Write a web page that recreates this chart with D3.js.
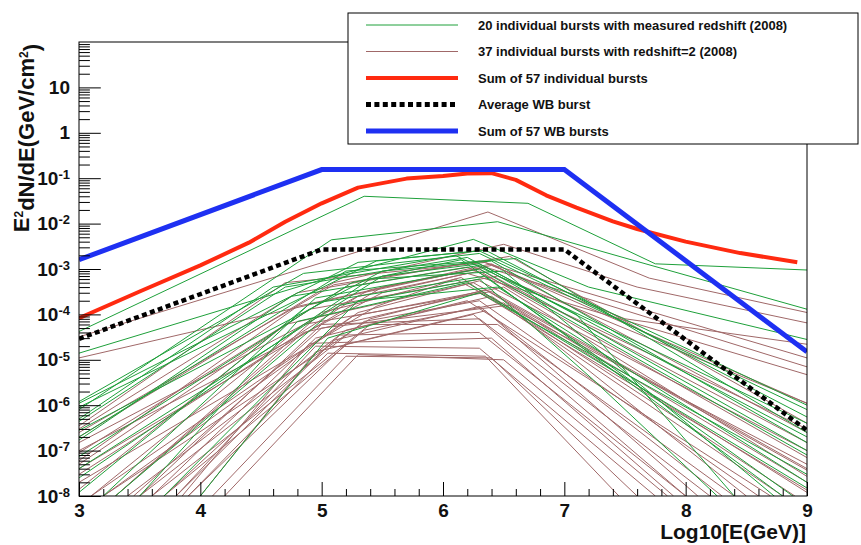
<!DOCTYPE html>
<html>
<head>
<meta charset="utf-8">
<script src="https://cdn.jsdelivr.net/npm/d3@7"></script>
<style>
  body { margin: 0; background: #fff; }
  text { font-family: "Liberation Sans", Arial, Helvetica, sans-serif; font-weight: bold; fill: #111; }
</style>
</head>
<body>
<div id="chart"></div>
<script>
// chart values

var energyTicks = [3, 4, 5, 6, 7, 8, 9];
var decadeTicks = [1e1, 1, 1e-1, 1e-2, 1e-3, 1e-4, 1e-5, 1e-6, 1e-7, 1e-8];

// sum of 57 WB bursts (blue)
var wbSumE = [3, 5, 7, 9];
var wbSumFlux = [1.6e-3, 0.155, 0.155, 1.5e-5];

// average WB burst (black dotted)
var wbAvgE = [3, 5, 7, 9];
var wbAvgFlux = [2.9e-5, 2.7e-3, 2.7e-3, 2.8e-7];

// sum of 57 individual bursts (red)
var indivSumE = [3, 3.5, 4, 4.4, 4.7, 5.0, 5.3, 5.7, 6.0, 6.2, 6.4, 6.6, 6.85, 7.1, 7.4, 7.6, 8.0, 8.45, 8.92];
var indivSumFlux = [8.3e-5, 3.2e-4, 1.2e-3, 3.8e-3, 1.1e-2, 2.8e-2, 6.2e-2, 0.098, 0.112, 0.127, 0.129, 0.092, 0.042, 0.0224, 0.0112, 7.6e-3, 4.0e-3, 2.24e-3, 1.41e-3];

// 20 bursts with measured redshift (green), [log10 E, flux] per break
var greenBursts = [
  [[3, 4.2e-5], [5.35, 4e-2], [6.7, 2.8e-2], [7.75, 1.3e-3], [9, 9.5e-4]],
  [[3, 8e-7], [5.08, 4.4e-3], [6.45, 1.1e-2], [7.55, 1.6e-3], [9, 1.3e-4]],
  [[3, 1.4e-5], [5.1, 7e-4], [6.25, 4.5e-3], [7.2, 4e-4], [9, 2.8e-5]],
  [[3, 1.2e-6], [4.85, 8e-4], [6.3, 2.2e-3], [9, 8e-7]],
  [[3, 9e-7], [5.45, 1.5e-3], [6.35, 2.6e-3], [9, 5.5e-7]],
  [[3, 4.4e-7], [4.7, 4e-4], [6.2, 1.8e-3], [9, 2e-7]],
  [[3, 2.8e-7], [5.5, 9e-4], [6.4, 1.5e-3], [9, 1.5e-7]],
  [[3, 1.7e-7], [4.75, 2.5e-4], [6.3, 1.2e-3], [9, 1e-7]],
  [[3, 7.4e-8], [5.25, 5e-4], [6.15, 1.6e-3], [9, 6e-9]],
  [[3, 2.5e-8], [5.4, 6e-4], [6.5, 9e-4], [9, 2.5e-9]],
  [[3, 1.2e-8], [4.9, 1.7e-4], [6.35, 7e-4], [9, 4e-9]],
  [[3.3, 1e-8], [5.15, 1.6e-4], [6.3, 6e-4], [7.24, 3.6e-6], [8.26, 1e-8]],
  [[3.5, 1e-8], [4.8, 7e-5], [6.2, 5e-4], [9, 1.5e-8]],
  [[4.0, 1e-8], [5.05, 3e-5], [6.3, 3e-4], [9, 3e-8]],
  [[3, 1.1e-6], [5.3, 1.4e-3], [6.3, 2.5e-3], [9, 1e-6]],
  [[3, 5e-7], [4.6, 4e-4], [6.1, 2e-3], [9, 4e-7]],
  [[3, 2e-7], [5.2, 9e-4], [6.6, 1.7e-3], [9, 2.5e-7]],
  [[3.2, 1e-8], [4.95, 2.3e-4], [6.3, 1e-3], [9, 8e-8]],
  [[3, 4e-8], [5.5, 7e-4], [6.3, 1.3e-3], [7.1, 1e-4], [8.4, 1e-8]],
  [[3.7, 1e-8], [5.3, 2e-4], [6.45, 4e-4], [9, 2e-8]]
];

// 37 bursts with redshift = 2 (brown)
var brownBursts = [
  [[3, 3.2e-5], [6.37, 1.8e-2], [7.7, 6.3e-4], [9, 1.1e-4]],
  [[3, 1.1e-5], [5.2, 2.5e-4], [6.4, 1.2e-3], [7.5, 8e-5], [9, 2.2e-5]],
  [[3, 2e-7], [5.1, 5e-4], [6.5, 3.5e-3], [7.6, 4e-4], [9, 6.5e-5]],
  [[3, 3e-7], [4.8, 3e-4], [6.3, 1.5e-3], [9, 1.1e-5]],
  [[3, 1.5e-7], [5.4, 3.5e-4], [6.35, 1.1e-3], [9, 7e-6]],
  [[3, 1e-7], [5.5, 3e-4], [6.2, 8e-4], [9, 4.7e-6]],
  [[3, 5e-8], [4.9, 1.3e-4], [6.45, 7e-4], [9, 1.1e-6]],
  [[3, 3e-8], [5.3, 2.5e-4], [6.3, 9e-4], [9, 7e-8]],
  [[3, 2e-8], [5.45, 1.5e-4], [6.1, 6e-4], [9, 5e-8]],
  [[3, 1.4e-8], [4.7, 6e-5], [6.25, 5e-4], [9, 3.7e-8]],
  [[3.1, 1e-8], [5.25, 9e-5], [6.5, 4e-4], [9, 2.7e-8]],
  [[3.2, 1e-8], [5.4, 8e-5], [6.35, 3.5e-4], [9, 2e-8]],
  [[3.3, 1e-8], [4.85, 4e-5], [6.3, 3e-4], [9, 1.35e-8]],
  [[3.4, 1e-8], [5.2, 4.5e-5], [6.4, 2.5e-4], [8.9, 1e-8]],
  [[3.6, 1e-8], [4.95, 3e-5], [6.2, 2e-4], [8.7, 1e-8]],
  [[3.7, 1e-8], [5.35, 4.5e-5], [6.5, 1.8e-4], [8.5, 1e-8]],
  [[3.8, 1e-8], [5.1, 2.7e-5], [6.3, 1.5e-4], [8.3, 1e-8]],
  [[3.9, 1e-8], [5.2, 2.2e-5], [6.35, 1.2e-4], [8.1, 1e-8]],
  [[4.0, 1e-8], [4.95, 1.5e-5], [6.25, 1e-4], [8.0, 1e-8]],
  [[3.9, 1e-8], [5.05, 1.4e-5], [6.35, 1.2e-5], [7.45, 1e-8]],
  [[4.1, 1e-8], [5.2, 1.2e-5], [6.4, 1.1e-5], [7.6, 1e-8]],
  [[3.8, 1e-8], [4.95, 2e-5], [6.3, 1.8e-5], [7.75, 1e-8]],
  [[4.2, 1e-8], [5.3, 1.3e-5], [6.5, 1e-5], [7.85, 1e-8]],
  [[3.5, 1e-8], [5.0, 6e-5], [6.3, 8e-5], [8.2, 1e-8]],
  [[3.6, 1e-8], [5.4, 6e-5], [6.45, 6e-5], [8.4, 1e-8]],
  [[3.7, 1e-8], [5.15, 3.5e-5], [6.3, 4e-5], [8.0, 1e-8]],
  [[3.85, 1e-8], [4.9, 2.3e-5], [6.4, 3e-5], [7.9, 1e-8]],
  [[3, 4e-8], [5.5, 4e-4], [6.3, 1e-3], [9, 1.5e-7]],
  [[3, 6e-8], [4.8, 1.5e-4], [6.4, 1.3e-3], [9, 2.5e-7]],
  [[3, 9e-8], [5.2, 4e-4], [6.2, 1.1e-3], [9, 3e-7]],
  [[3, 2.5e-7], [5.1, 4.5e-4], [6.55, 1.9e-3], [9, 4e-7]],
  [[3, 3.5e-7], [4.7, 5e-4], [6.35, 1.4e-3], [9, 1.1e-6]],
  [[3.2, 1e-8], [5.3, 1.1e-4], [6.3, 5.5e-4], [9, 1e-7]],
  [[3.3, 1e-8], [5.0, 1.1e-4], [6.15, 6.5e-4], [8.8, 1e-8]],
  [[3.1, 1e-8], [4.85, 6e-5], [6.4, 3.2e-4], [9, 4e-8]],
  [[3.5, 1e-8], [5.35, 7e-5], [6.3, 2e-4], [8.6, 1e-8]],
  [[3.45, 1e-8], [5.0, 5e-5], [6.55, 1.6e-4], [9, 1.2e-8]]
];

var legendLabels = [
  "20 individual bursts with measured redshift (2008)",
  "37 individual bursts with redshift=2 (2008)",
  "Sum of 57 individual bursts",
  "Average WB burst",
  "Sum of 57 WB bursts"
];

var greenColor = "#1ea03a";
var brownColor = "#a06868";
var redColor = "#ff2a10";
var blueColor = "#1e30f2";

var width = 861, height = 545;
var plotLeft = 79, plotRight = 807, plotTop = 42, plotBottom = 496;

var svg = d3.select("#chart").append("svg")
  .attr("width", width)
  .attr("height", height);

svg.append("rect").attr("width", width).attr("height", height).attr("fill", "#fff");

var x = d3.scaleLinear().domain([3, 9]).range([plotLeft, plotRight]);
var y = d3.scaleLog().domain([1e-8, 1e2]).range([plotBottom, plotTop]);

svg.append("clipPath").attr("id", "plotclip")
  .append("rect")
  .attr("x", plotLeft).attr("y", plotTop)
  .attr("width", plotRight - plotLeft).attr("height", plotBottom - plotTop);

var plot = svg.append("g").attr("clip-path", "url(#plotclip)");

var line = d3.line()
  .x(function(d) { return x(d[0]); })
  .y(function(d) { return y(d[1]); });

function zip(es, fs) {
  return es.map(function(e, i) { return [e, fs[i]]; });
}

// individual bursts
plot.selectAll("path.brown")
  .data(brownBursts)
  .enter().append("path")
    .attr("class", "brown")
    .attr("d", line)
    .attr("fill", "none")
    .attr("stroke", brownColor)
    .attr("stroke-width", 1);

plot.selectAll("path.green")
  .data(greenBursts)
  .enter().append("path")
    .attr("class", "green")
    .attr("d", line)
    .attr("fill", "none")
    .attr("stroke", greenColor)
    .attr("stroke-width", 1);

plot.append("path")
  .attr("d", line(zip(indivSumE, indivSumFlux)))
  .attr("fill", "none")
  .attr("stroke", redColor)
  .attr("stroke-width", 4)
  .attr("stroke-linejoin", "round");

plot.append("path")
  .attr("d", line(zip(wbAvgE, wbAvgFlux)))
  .attr("fill", "none")
  .attr("stroke", "#000")
  .attr("stroke-width", 4.5)
  .attr("stroke-dasharray", "5,3.4");

plot.append("path")
  .attr("d", line(zip(wbSumE, wbSumFlux)))
  .attr("fill", "none")
  .attr("stroke", blueColor)
  .attr("stroke-width", 5);

// axes
var minorE = [];
energyTicks.slice(0, -1).forEach(function(e) {
  [0.2, 0.4, 0.6, 0.8].forEach(function(f) { minorE.push(+(e + f).toFixed(1)); });
});

svg.append("g")
  .attr("transform", "translate(0," + plotBottom + ")")
  .call(d3.axisBottom(x).tickValues(energyTicks).tickSize(-14).tickPadding(8).tickFormat(d3.format("d")));
svg.append("g")
  .attr("transform", "translate(0," + plotBottom + ")")
  .call(d3.axisBottom(x).tickValues(minorE).tickSize(-7).tickFormat(""));

var minorFlux = [];
decadeTicks.forEach(function(p) {
  for (var k = 2; k <= 9; k++) minorFlux.push(p * k);
});

var yAxis = svg.append("g")
  .attr("transform", "translate(" + plotLeft + ",0)")
  .call(d3.axisLeft(y).tickValues(decadeTicks).tickSize(-21.8).tickPadding(9));
svg.append("g")
  .attr("transform", "translate(" + plotLeft + ",0)")
  .call(d3.axisLeft(y).tickValues(minorFlux).tickSize(-10.9).tickFormat(""));

svg.selectAll(".domain").remove();
svg.selectAll(".tick line").attr("stroke", "#000").attr("stroke-width", 1);
svg.selectAll(".tick text").attr("font-size", 19).attr("font-family", null).attr("fill", "#111");

yAxis.selectAll(".tick text").each(function(d) {
  var t = d3.select(this).text(null);
  var ex = Math.round(Math.log10(d));
  if (ex === 0) { t.text("1"); return; }
  if (ex === 1) { t.text("10"); return; }
  t.append("tspan").text("10");
  t.append("tspan").attr("dy", "-0.45em").attr("font-size", 13).text("-" + Math.abs(ex));
});

// frame
svg.append("rect")
  .attr("x", plotLeft).attr("y", plotTop)
  .attr("width", plotRight - plotLeft).attr("height", plotBottom - plotTop)
  .attr("fill", "none").attr("stroke", "#000").attr("stroke-width", 1);

// titles
svg.append("text")
  .attr("x", 806).attr("y", 539)
  .attr("text-anchor", "end")
  .attr("font-size", 21)
  .text("Log10[E(GeV)]");

var yt = svg.append("text")
  .attr("transform", "translate(29," + (plotTop + 2) + ") rotate(-90)")
  .attr("text-anchor", "end")
  .attr("font-size", 22);
yt.append("tspan").text("E");
yt.append("tspan").attr("dy", "-0.5em").attr("font-size", 12).text("2");
yt.append("tspan").attr("dy", "0.5em").text("dN/dE(GeV/cm");
yt.append("tspan").attr("dy", "-0.5em").attr("font-size", 12).text("2");
yt.append("tspan").attr("dy", "0.5em").text(")");

// legend
var legendStyles = [
  { color: greenColor, w: 1, dash: null },
  { color: brownColor, w: 1, dash: null },
  { color: redColor, w: 4, dash: null },
  { color: "#000", w: 5, dash: "5,3.4" },
  { color: blueColor, w: 5, dash: null }
];
var lg = svg.append("g");
lg.append("rect")
  .attr("x", 348).attr("y", 13)
  .attr("width", 510).attr("height", 131)
  .attr("fill", "#fff").attr("stroke", "#000").attr("stroke-width", 1);
var rowY = d3.scalePoint().domain(d3.range(legendLabels.length)).range([25, 131]);
var rows = lg.selectAll("g.row")
  .data(legendLabels)
  .enter().append("g")
    .attr("class", "row")
    .attr("transform", function(d, i) { return "translate(0," + rowY(i) + ")"; });
rows.append("line")
  .attr("x1", 366).attr("x2", 458)
  .attr("stroke", function(d, i) { return legendStyles[i].color; })
  .attr("stroke-width", function(d, i) { return legendStyles[i].w; })
  .attr("stroke-dasharray", function(d, i) { return legendStyles[i].dash; });
rows.append("text")
  .attr("x", 478).attr("y", 4.5)
  .attr("font-size", 13)
  .text(function(d) { return d; });
</script>
</body>
</html>
